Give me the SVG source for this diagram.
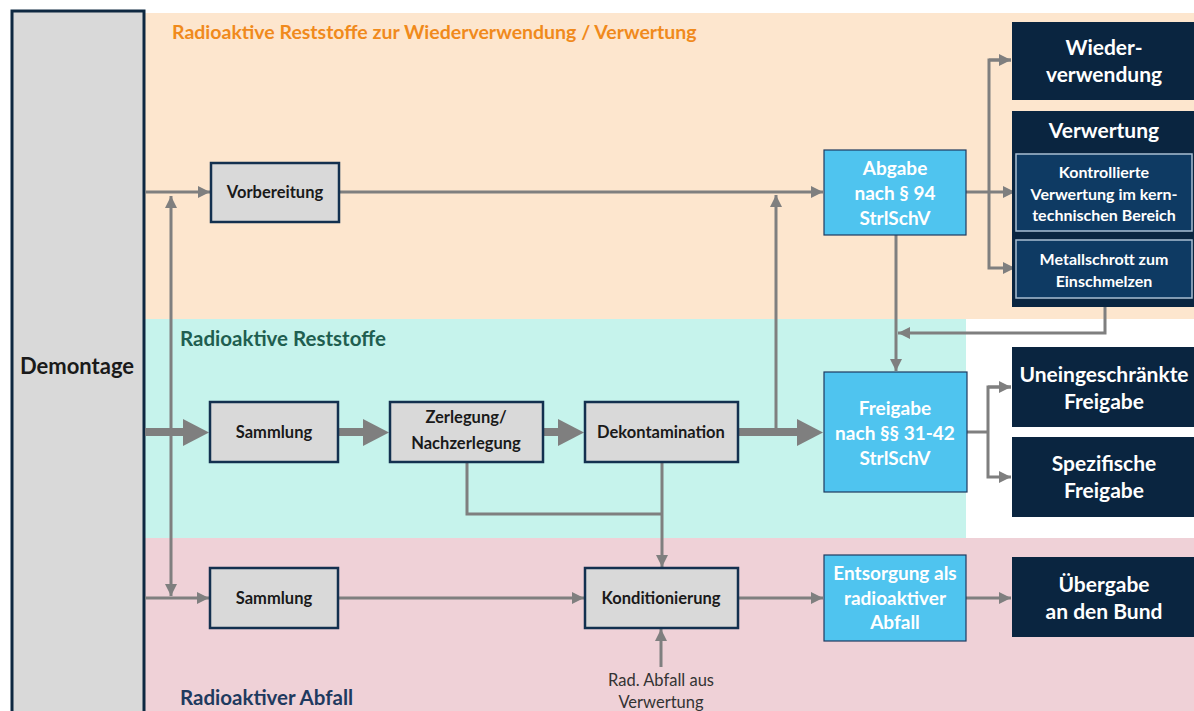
<svg xmlns="http://www.w3.org/2000/svg" width="1194" height="711" viewBox="0 0 1194 711">
<defs>
<style>
.t{font-family:Lato,"Open Sans","Liberation Sans",sans-serif;font-weight:bold;text-anchor:middle}
.gb{fill:#D9D9D9;stroke:#13304F;stroke-width:2.5}
.bb{fill:#4FC4EF;stroke:#1F3A5F;stroke-width:1.2}
.nb{fill:#0A2540}
.ib{fill:#0E3A63;stroke:#A9BED2;stroke-width:1.5}
.ln{fill:none;stroke:#7F7F7F;stroke-width:3}
.th{fill:none;stroke:#7F7F7F;stroke-width:8}
.bk{fill:#1a1a1a;font-size:16.5px}
.wh{fill:#FFFFFF}
.f19{font-size:19px}
.f21{font-size:21px}
.f16{font-size:16px}
</style>
<marker id="a" viewBox="0 0 10 10" refX="10" refY="5" markerWidth="4" markerHeight="4" orient="auto" markerUnits="strokeWidth">
<path d="M0,0 L10,5 L0,10 z" fill="#7F7F7F"/>
</marker>
<marker id="as" viewBox="0 0 10 10" refX="0" refY="5" markerWidth="4" markerHeight="4" orient="auto" markerUnits="strokeWidth">
<path d="M10,0 L0,5 L10,10 z" fill="#7F7F7F"/>
</marker>
</defs>
<rect width="1194" height="711" fill="#FFFFFF"/>
<g id="bands">
<rect x="145" y="13" width="1049" height="306" fill="#FDE6CE"/>
<rect x="145" y="319" width="821" height="219" fill="#C6F3EC"/>
<rect x="145" y="538" width="1049" height="173" fill="#EFD1D7"/>
<text x="172" y="39" class="t" style="text-anchor:start;font-size:19.5px;fill:#F08A1C">Radioaktive Reststoffe zur Wiederverwendung / Verwertung</text>
<text x="180" y="346" class="t" style="text-anchor:start;font-size:20.5px;fill:#1F5E50">Radioaktive Reststoffe</text>
<text x="180" y="705" class="t" style="text-anchor:start;font-size:20.5px;fill:#1F3A5F">Radioaktiver Abfall</text>
</g>
<g id="demontage">
<rect x="12" y="11" width="132" height="710" fill="#D9D9D9" stroke="#0E2841" stroke-width="3"/>
<text x="77" y="374" class="t" style="font-size:22px;fill:#1a1a1a">Demontage</text>
</g>
<g id="connectors">
<line x1="145" y1="192" x2="210" y2="192" class="ln" marker-end="url(#a)"/>
<line x1="171" y1="196" x2="171" y2="596" class="ln" marker-start="url(#as)" marker-end="url(#a)"/>
<line x1="339" y1="192" x2="823" y2="192" class="ln" marker-end="url(#a)"/>
<line x1="776" y1="432" x2="776" y2="195" class="ln" marker-end="url(#a)"/>
<line x1="145" y1="432" x2="185" y2="432" class="th"/>
<path d="M183,419 L209,432.5 L183,446 z" fill="#7F7F7F"/>
<line x1="338" y1="432" x2="365" y2="432" class="th"/>
<path d="M363,419 L389,432.5 L363,446 z" fill="#7F7F7F"/>
<line x1="543" y1="432" x2="560" y2="432" class="th"/>
<path d="M558,419 L584,432.5 L558,446 z" fill="#7F7F7F"/>
<line x1="738" y1="432" x2="799" y2="432" class="th"/>
<path d="M797,419 L823,432.5 L797,446 z" fill="#7F7F7F"/>
<polyline points="467,462 467,514 662,514" class="ln"/>
<line x1="662" y1="462" x2="662" y2="567" class="ln" marker-end="url(#a)"/>
<line x1="145" y1="598" x2="209" y2="598" class="ln" marker-end="url(#a)"/>
<line x1="338" y1="598" x2="584" y2="598" class="ln" marker-end="url(#a)"/>
<line x1="738" y1="598" x2="823" y2="598" class="ln" marker-end="url(#a)"/>
<line x1="966" y1="598" x2="1011" y2="598" class="ln" marker-end="url(#a)"/>
<line x1="661" y1="667" x2="661" y2="629" class="ln" marker-end="url(#a)"/>
<line x1="966" y1="192" x2="1015" y2="192" class="ln" marker-end="url(#a)"/>
<polyline points="1011,60 989,60 989,268 1015,268" class="ln" marker-end="url(#a)"/>
<line x1="989" y1="60" x2="1011" y2="60" class="ln" marker-end="url(#a)"/>
<line x1="896" y1="235" x2="896" y2="371" class="ln" marker-end="url(#a)"/>
<polyline points="1105,307 1105,333 898,333" class="ln" marker-end="url(#a)"/>
<line x1="967" y1="432" x2="988" y2="432" class="ln"/>
<polyline points="1011,387 988,387 988,477 1011,477" class="ln" marker-end="url(#a)"/>
<line x1="988" y1="387" x2="1011" y2="387" class="ln" marker-end="url(#a)"/>
</g>
<g id="vorbereitung">
<rect x="211" y="163" width="128" height="59" class="gb"/>
<text x="275" y="198" class="t bk">Vorbereitung</text>
</g>
<g id="sammlung1">
<rect x="210" y="402" width="128" height="60" class="gb"/>
<text x="274" y="438" class="t bk">Sammlung</text>
</g>
<g id="zerlegung">
<rect x="390" y="402" width="153" height="60" class="gb"/>
<text x="466" y="423" class="t bk">Zerlegung/</text>
<text x="466" y="449" class="t bk">Nachzerlegung</text>
</g>
<g id="dekontamination">
<rect x="585" y="402" width="153" height="60" class="gb"/>
<text x="661" y="438" class="t bk">Dekontamination</text>
</g>
<g id="sammlung2">
<rect x="210" y="568" width="128" height="60" class="gb"/>
<text x="274" y="604" class="t bk">Sammlung</text>
</g>
<g id="konditionierung">
<rect x="585" y="568" width="153" height="60" class="gb"/>
<text x="661" y="604" class="t bk">Konditionierung</text>
</g>
<g id="abgabe">
<rect x="824" y="150" width="142" height="85" class="bb"/>
<text x="895" y="175" class="t wh f19">Abgabe</text>
<text x="895" y="200" class="t wh f19">nach § 94</text>
<text x="895" y="225" class="t wh f19">StrlSchV</text>
</g>
<g id="freigabe">
<rect x="824" y="372" width="143" height="120" class="bb"/>
<text x="895" y="415" class="t wh f19">Freigabe</text>
<text x="895" y="440" class="t wh f19">nach §§ 31-42</text>
<text x="895" y="465" class="t wh f19">StrlSchV</text>
</g>
<g id="entsorgung">
<rect x="824" y="555" width="142" height="86" class="bb"/>
<text x="895" y="580" class="t wh f19">Entsorgung als</text>
<text x="895" y="605" class="t wh f19">radioaktiver</text>
<text x="895" y="629" class="t wh f19">Abfall</text>
</g>
<g id="wiederverwendung">
<rect x="1012" y="22" width="182" height="78" class="nb"/>
<text x="1104" y="55" class="t wh f21">Wieder-</text>
<text x="1104" y="82" class="t wh f21">verwendung</text>
</g>
<g id="verwertung">
<rect x="1012" y="111" width="182" height="196" class="nb"/>
<text x="1104" y="138" class="t wh f21">Verwertung</text>
<rect x="1016" y="154" width="176" height="77" class="ib"/>
<text x="1104" y="178" class="t wh f16">Kontrollierte</text>
<text x="1104" y="200" class="t wh f16">Verwertung im kern-</text>
<text x="1104" y="221" class="t wh f16">technischen Bereich</text>
<rect x="1016" y="240" width="176" height="58" class="ib"/>
<text x="1104" y="265" class="t wh f16">Metallschrott zum</text>
<text x="1104" y="287" class="t wh f16">Einschmelzen</text>
</g>
<g id="uneingeschraenkt">
<rect x="1012" y="347" width="182" height="80" class="nb"/>
<text x="1104" y="382" class="t wh f21">Uneingeschränkte</text>
<text x="1104" y="409" class="t wh f21">Freigabe</text>
</g>
<g id="spezifisch">
<rect x="1012" y="437" width="182" height="80" class="nb"/>
<text x="1104" y="471" class="t wh f21">Spezifische</text>
<text x="1104" y="498" class="t wh f21">Freigabe</text>
</g>
<g id="uebergabe">
<rect x="1012" y="557" width="182" height="80" class="nb"/>
<text x="1104" y="592" class="t wh f21">Übergabe</text>
<text x="1104" y="619" class="t wh f21">an den Bund</text>
</g>
<g id="radabfall">
<text x="661" y="686" style="font-family:Lato,'Open Sans','Liberation Sans',sans-serif;font-size:16.5px;fill:#333333;text-anchor:middle">Rad. Abfall aus</text>
<text x="661" y="708" style="font-family:Lato,'Open Sans','Liberation Sans',sans-serif;font-size:16.5px;fill:#333333;text-anchor:middle">Verwertung</text>
</g>
</svg>
